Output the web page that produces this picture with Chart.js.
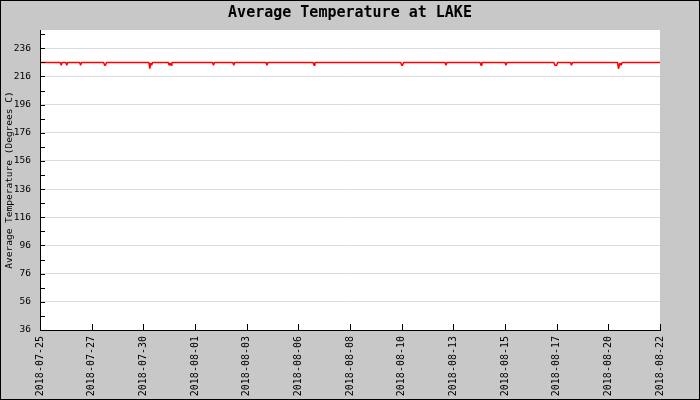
<!DOCTYPE html>
<html>
<head>
<meta charset="utf-8">
<script src="https://cdn.jsdelivr.net/npm/chart.js@4"></script>
<style>
  html, body { margin: 0; padding: 0; background: #c8c8c8; }
  canvas { display: block; }
</style>
</head>
<body>
<canvas id="tempChart" width="700" height="400"></canvas>
<script>
const chartTitle = "Average Temperature at LAKE";
const yAxisTitle = "Average Temperature (Degrees C)";

// readings, hours counted from 2018-07-25 00:00
const sampleHours = [
    0,
    22, 23, 24,
    28, 29, 30,
    43, 44, 45,
    69, 70, 71, 72,
    118, 119, 120, 121, 122,
    139, 140, 141, 142, 143,
    187, 188, 189,
    209, 210, 211,
    245, 246, 247,
    296, 297, 298,
    391, 392, 393, 394,
    439, 440, 441,
    477, 478, 479,
    504, 505, 506,
    557, 558, 559, 560, 561,
    575, 576, 577,
    626, 627, 628.5, 630, 631,
    672,
];
const temperatures = [
    226,
    226, 224, 226,
    226, 224, 226,
    226, 224, 226,
    226, 224, 224, 226,
    226, 221.5, 225.5, 224, 226,
    226, 224, 225.5, 224, 226,
    226, 224, 226,
    226, 224, 226,
    226, 224, 226,
    226, 224, 226,
    226, 224, 224, 226,
    226, 224, 226,
    226, 224, 226,
    226, 224, 226,
    226, 224, 224, 224, 226,
    226, 224, 226,
    226, 221.5, 225.5, 224, 226,
    226,
];

const xTickLabels = [
    "2018-07-25", "2018-07-27", "2018-07-30", "2018-08-01", "2018-08-03",
    "2018-08-06", "2018-08-08", "2018-08-10", "2018-08-13", "2018-08-15",
    "2018-08-17", "2018-08-20", "2018-08-22",
];
const yTickLabels = [36, 56, 76, 96, 116, 136, 156, 176, 196, 216, 236];
const yMinorTicks = [46, 66, 86, 106, 126, 146, 166, 186, 206, 226, 246];
const yMin = 36;
const yMax = 249;
const totalHours = 672;

const frame = {
    id: "frame",
    beforeDraw(chart) {
        const { ctx, chartArea: a } = chart;
        ctx.save();
        ctx.fillStyle = "#c8c8c8";
        ctx.fillRect(0, 0, chart.width, chart.height);
        ctx.fillStyle = "#ffffff";
        ctx.fillRect(a.left, a.top, a.right - a.left, a.bottom - a.top);
        ctx.restore();
    },
    afterDraw(chart) {
        const { ctx, chartArea: a, scales } = chart;
        ctx.save();
        ctx.strokeStyle = "#000000";
        ctx.lineWidth = 1;
        ctx.beginPath();
        // tick marks point inward, as in the original
        scales.y.ticks.forEach((t) => {
            const py = Math.round(scales.y.getPixelForValue(t.value)) + 0.5;
            ctx.moveTo(a.left, py);
            ctx.lineTo(a.left + 5, py);
        });
        scales.x.ticks.forEach((t) => {
            const px = Math.round(scales.x.getPixelForValue(t.value)) + 0.5;
            ctx.moveTo(px, a.bottom);
            ctx.lineTo(px, a.bottom - 6);
        });
        ctx.stroke();
        ctx.strokeRect(0.5, 0.5, chart.width - 1, chart.height - 1);
        ctx.restore();
    },
};

const ctx = document.getElementById("tempChart").getContext("2d");
new Chart(ctx, {
    type: "line",
    data: {
        datasets: [
            {
                label: "Temperature",
                data: sampleHours.map((h, i) => ({ x: h, y: temperatures[i] })),
                borderColor: "#ff0000",
                borderWidth: 1.5,
                borderJoinStyle: "bevel",
                pointRadius: 0,
                tension: 0,
                fill: false,
            },
        ],
    },
    options: {
        responsive: false,
        animation: false,
        layout: { padding: 0 },
        plugins: {
            legend: { display: false },
            tooltip: { enabled: false },
            title: {
                display: true,
                text: chartTitle,
                color: "#000000",
                font: { family: "DejaVu Sans Mono", size: 15, weight: "bold" },
                padding: { top: 4, bottom: 8 },
            },
        },
        scales: {
            x: {
                type: "linear",
                min: 0,
                max: totalHours,
                afterBuildTicks: (scale) => {
                    scale.ticks = xTickLabels.map((_, i) => ({ value: (i * totalHours) / (xTickLabels.length - 1) }));
                },
                afterFit: (scale) => { scale.height = 70; },
                ticks: {
                    autoSkip: false,
                    minRotation: 90,
                    maxRotation: 90,
                    padding: 6,
                    color: "#000000",
                    font: { family: "DejaVu Sans Mono", size: 10 },
                    callback: (value, index) => xTickLabels[index],
                },
                grid: { display: true, color: "rgba(0,0,0,0)", drawTicks: false },
                border: { display: true, color: "#000000", width: 1 },
            },
            y: {
                min: yMin,
                max: yMax,
                afterBuildTicks: (scale) => {
                    scale.ticks = yTickLabels.concat(yMinorTicks).sort((a, b) => a - b).map((v) => ({ value: v }));
                },
                afterFit: (scale) => { scale.width = 40; },
                ticks: {
                    autoSkip: false,
                    padding: 9,
                    color: "#000000",
                    font: { family: "DejaVu Sans Mono", size: 9.5 },
                    callback: (value) => (yTickLabels.includes(value) ? String(value) : ""),
                },
                grid: {
                    drawTicks: false,
                    color: (c) => (c.tick && yTickLabels.includes(c.tick.value) && c.tick.value !== yMin ? "#dcdcdc" : "rgba(0,0,0,0)"),
                },
                border: { display: true, color: "#000000", width: 1 },
                title: {
                    display: true,
                    text: yAxisTitle,
                    color: "#000000",
                    font: { family: "DejaVu Sans Mono", size: 9.5 },
                    padding: { top: 4, bottom: 0 },
                },
            },
            yRight: {
                position: "right",
                afterFit: (scale) => { scale.width = 40; },
                ticks: { display: false },
                grid: { display: false, drawTicks: false },
                border: { display: false },
            },
        },
    },
    plugins: [frame],
});
</script>
</body>
</html>
